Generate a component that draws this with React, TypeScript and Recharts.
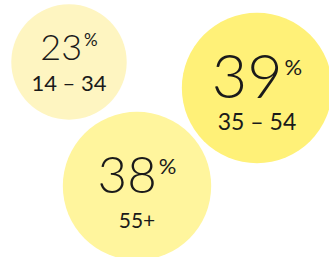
import React from 'react';
import { ScatterChart, Scatter, XAxis, YAxis, ZAxis } from 'recharts';

const groups = ['14 – 34', '35 – 54', '55+'];
const shares = [23, 39, 38];
const posX = [69, 257, 137];
const posY = [62, 88, 186];

const data = groups.map((g, i) => ({ group: g, x: posX[i], y: posY[i], z: shares[i] }));

const fills = ['#FEF5C1', '#FFF178', '#FFF59D'];
const textStyle = [
  { main: 36, pct: 17, label: 22, mainDy: -2, labelDy: 29 },
  { main: 61, pct: 22, label: 23, mainDy: 10, labelDy: 42 },
  { main: 51, pct: 22, label: 21, mainDy: 7, labelDy: 42 },
];

const Bubble = (props: any) => {
  const { cx, cy, size, index, payload } = props;
  const r = Math.sqrt(size / Math.PI);
  const s = textStyle[index];
  return (
    <g>
      <circle cx={cx} cy={cy} r={r} fill={fills[index]} />
      <text x={cx} y={cy + s.mainDy} textAnchor="middle" fill="#1a1a1a" fontFamily="Lato">
        <tspan fontSize={s.main} fontWeight={300}>{payload.z}</tspan>
        <tspan fontSize={s.pct} fontWeight={400} dx={2} dy={-s.main * 0.38}>%</tspan>
      </text>
      <text x={cx} y={cy + s.labelDy} textAnchor="middle" fill="#1a1a1a" fontFamily="Lato" fontWeight={400} fontSize={s.label}>
        {payload.group}
      </text>
    </g>
  );
};

export default function App() {
  return (
    <div style={{ position: 'fixed', left: 0, top: 0, background: '#fff' }}>
      <ScatterChart width={329} height={257} margin={{ top: 0, right: 0, bottom: 0, left: 0 }}>
        <XAxis type="number" dataKey="x" domain={[0, 329]} hide />
        <YAxis type="number" dataKey="y" domain={[0, 257]} reversed hide />
        <ZAxis type="number" dataKey="z" domain={[0, 40]} range={[0, 18200]} />
        <Scatter data={data} shape={<Bubble />} isAnimationActive={false} />
      </ScatterChart>
    </div>
  );
}
